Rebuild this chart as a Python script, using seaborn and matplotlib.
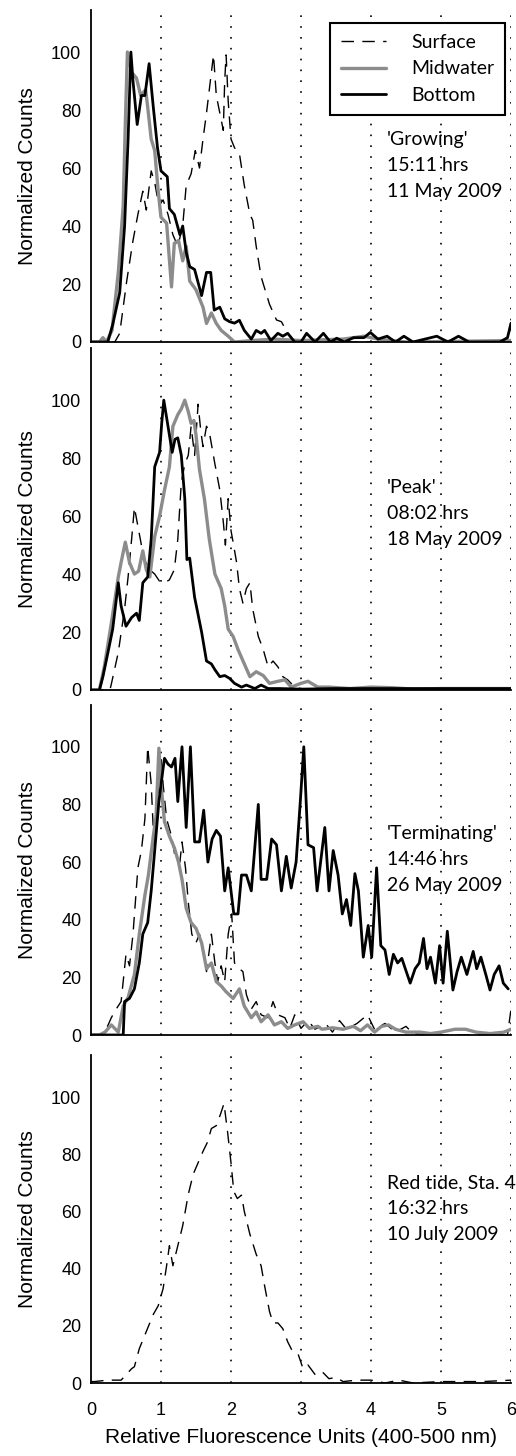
import matplotlib
matplotlib.use("Agg")
import matplotlib.pyplot as plt
import seaborn as sns

# ---- 'Growing' 11 May 2009 ----
grow_surf_x = [0, 0.34, 0.41, 0.51, 0.60, 0.67, 0.74, 0.79, 0.86, 0.91, 0.97, 1.03, 1.10, 1.17, 1.24, 1.31,
               1.36, 1.43, 1.49, 1.55, 1.60, 1.65, 1.70, 1.75, 1.79, 1.84, 1.89, 1.91, 1.93, 1.96, 2.00,
               2.05, 2.12, 2.19, 2.27, 2.31, 2.36, 2.43, 2.55, 2.65, 2.72, 2.81, 2.91, 3.5, 6.0]
grow_surf_y = [0, 0, 3, 21, 35, 44, 52, 45.5, 59, 55, 47, 49, 44, 37, 33, 40,
               54, 58, 66, 60, 70, 79, 89, 99, 85, 79, 73, 90, 99, 83, 70,
               67, 65, 54, 44, 42, 33, 22.5, 13, 7.6, 7, 3, 0, 0, 0]
grow_mid_x = [0, 0.12, 0.17, 0.22, 0.30, 0.39, 0.46, 0.49, 0.52, 0.58, 0.65, 0.71, 0.78, 0.81, 0.86, 0.91,
              0.96, 1.00, 1.08, 1.15, 1.19, 1.25, 1.31, 1.36, 1.41, 1.50, 1.60, 1.65, 1.72, 1.79, 1.86,
              1.96, 2.05, 2.3, 2.6, 3.0, 3.6, 3.9, 4.1, 4.5, 6.0]
grow_mid_y = [0, 0, 1.5, 0, 4, 24, 47, 75, 100, 93, 91, 85, 87, 81, 70, 66,
              52, 43, 41, 19, 34, 35, 28, 33, 21, 18, 12, 6.4, 10, 6.4, 4,
              2, 0, 0.5, 1, 0.5, 1, 2, 1, 0, 0.5]
grow_bot_x = [0, 0.24, 0.31, 0.41, 0.48, 0.53, 0.57, 0.60, 0.66, 0.72, 0.77, 0.83, 0.89, 0.95, 1.00, 1.09,
              1.12, 1.19, 1.27, 1.31, 1.36, 1.41, 1.48, 1.58, 1.65, 1.71, 1.76, 1.84, 1.91, 1.98, 2.05,
              2.12, 2.19, 2.29, 2.36, 2.43, 2.48, 2.57, 2.67, 2.74, 2.81, 2.91, 3.00, 3.08, 3.20, 3.32,
              3.42, 3.51, 3.62, 3.75, 3.9, 3.99, 4.1, 4.23, 4.35, 4.47, 4.6, 4.94, 5.1, 5.25, 5.4, 5.84,
              5.95, 6.0]
grow_bot_y = [0, 0, 6, 17, 40, 70, 100, 90, 75, 85, 85, 96, 81, 67, 59, 57,
              46, 44, 37, 40, 31, 26, 25, 16, 24, 24, 11, 12, 8, 7, 6.5,
              7.5, 4, 1, 4, 3, 4, 0.5, 3, 2, 3, 0, 0, 3, 0, 3,
              0, 1.3, 0, 1.5, 1.5, 3.3, 1, 2, 0, 2, 0, 2, 0, 2, 0, 0,
              1.5, 6.5]

# ---- 'Peak' 18 May 2009 ----
peak_surf_x = [0, 0.27, 0.29, 0.39, 0.48, 0.53, 0.58, 0.62, 0.67, 0.72, 0.76, 0.84, 0.91, 0.98, 1.05, 1.12,
               1.19, 1.24, 1.29, 1.34, 1.39, 1.43, 1.48, 1.53, 1.57, 1.60, 1.65, 1.69, 1.77, 1.84, 1.89,
               1.92, 1.96, 2.00, 2.03, 2.08, 2.12, 2.17, 2.22, 2.27, 2.31, 2.39, 2.46, 2.53, 2.60, 2.67,
               2.74, 2.81, 2.91, 3.00, 3.3, 6.0]
peak_surf_y = [0, 0, 2, 13, 28, 39, 52, 63, 56.5, 50, 45, 41.5, 40, 37.5, 37, 38,
               41.5, 52, 71.5, 78, 81, 91, 81, 98.6, 89, 84, 91, 89, 78, 69, 58,
               50, 66, 55, 51, 44, 35, 30, 35, 37, 28, 18.5, 14, 8, 10, 8,
               4.6, 3.5, 1, 0.5, 0, 0]
peak_mid_x = [0, 0.12, 0.19, 0.29, 0.39, 0.43, 0.49, 0.55, 0.62, 0.68, 0.74, 0.79, 0.84, 0.91, 0.98, 1.05,
              1.12, 1.17, 1.24, 1.29, 1.34, 1.39, 1.43, 1.47, 1.50, 1.55, 1.62, 1.69, 1.77, 1.86, 1.91,
              1.96, 2.03, 2.10, 2.19, 2.27, 2.36, 2.46, 2.55, 2.67, 2.77, 2.86, 3.00, 3.10, 3.24, 3.4,
              3.7, 4.0, 4.3, 4.6, 5.0, 6.0]
peak_mid_y = [0, 0, 8, 23, 39, 44, 51, 44, 40, 41, 48, 41.5, 39, 53, 60, 69,
              77, 91, 95, 97, 100, 96, 92, 93, 88, 76, 66, 52, 40, 35, 29,
              21, 18.5, 14, 9, 4.6, 6.3, 5, 2.3, 3, 3.5, 1, 2.3, 3, 1, 1,
              0.5, 1, 0.8, 0.3, 0.5, 0.5]
peak_bot_x = [0, 0.12, 0.17, 0.24, 0.31, 0.39, 0.43, 0.50, 0.58, 0.65, 0.69, 0.74, 0.81, 0.86, 0.91, 0.98,
              1.01, 1.04, 1.10, 1.16, 1.20, 1.24, 1.29, 1.34, 1.37, 1.41, 1.48, 1.58, 1.65, 1.72, 1.77,
              1.84, 1.91, 1.98, 2.05, 2.15, 2.22, 2.34, 2.43, 2.53, 2.7, 3.0, 3.5, 4.0, 6.0]
peak_bot_y = [0, 0, 4.6, 12.7, 21, 37, 29, 22, 25, 26.5, 24, 37, 39, 52, 77, 82,
              92, 100, 91, 82, 86.5, 87, 81, 66, 45, 45.5, 32, 20, 10, 9, 7,
              4.6, 5, 4, 2.3, 1, 1.7, 0.5, 1.7, 0.5, 0.5, 0.3, 0.5, 0.5, 0.5]

# ---- 'Terminating' 26 May 2009 ----
term_surf_x = [0, 0.15, 0.20, 0.29, 0.36, 0.43, 0.50, 0.55, 0.60, 0.67, 0.72, 0.77, 0.81, 0.86, 0.90, 0.93,
               0.97, 1.00, 1.03, 1.08, 1.15, 1.20, 1.27, 1.30, 1.35, 1.39, 1.44, 1.50, 1.55, 1.60, 1.65,
               1.72, 1.77, 1.81, 1.86, 1.91, 1.96, 2.01, 2.05, 2.12, 2.17, 2.22, 2.29, 2.36, 2.43, 2.53,
               2.60, 2.67, 2.77, 2.84, 2.91, 3.00, 3.10, 3.20, 3.35, 3.45, 3.55, 3.65, 3.80, 3.95, 4.05,
               4.20, 4.35, 4.50, 4.60, 4.80, 5.50, 5.95, 6.0]
term_surf_y = [0, 0, 1, 6, 9, 11.6, 28, 24, 35, 58, 64, 75, 100, 87, 66, 73,
               90, 97, 87, 75, 69, 62, 60, 67, 58, 46, 35, 32, 35, 29, 22,
               35, 25, 18.5, 24, 18.5, 35, 42, 25, 23, 22, 14, 9, 11.6, 7, 6,
               11.6, 7, 6, 2.3, 7, 2.3, 5, 2, 4, 1, 5, 2, 4, 7, 2,
               4, 1, 3, 0.5, 0, 0, 0, 9]
term_mid_x = [0, 0.12, 0.20, 0.29, 0.39, 0.46, 0.53, 0.62, 0.69, 0.77, 0.82, 0.89, 0.93, 0.97, 1.00, 1.05,
              1.12, 1.19, 1.25, 1.30, 1.36, 1.43, 1.50, 1.58, 1.65, 1.72, 1.79, 1.86, 1.93, 2.03, 2.12,
              2.19, 2.29, 2.36, 2.43, 2.53, 2.62, 2.72, 2.81, 2.91, 3.03, 3.12, 3.24, 3.30, 3.45, 3.60,
              3.75, 3.85, 3.95, 4.05, 4.15, 4.25, 4.35, 4.50, 4.70, 4.85, 5.00, 5.20, 5.35, 5.50, 5.70,
              5.90, 6.0]
term_mid_y = [0, 0, 1, 3.5, 1, 10, 13, 21, 35, 48.5, 55.5, 69, 76, 99.5, 87, 74,
              69, 65, 60, 54, 44, 39, 37, 32, 23, 25, 18.5, 17, 15, 12.7, 16,
              10, 6, 8, 4.6, 7, 3.5, 4.6, 2.3, 3.5, 4.6, 2.3, 3, 2, 2.5, 2,
              3, 1.5, 3.5, 1, 3, 3.5, 2, 1, 1, 0.5, 1, 2, 2, 1, 0.5,
              1, 2]
term_bot_x = [0, 0.46, 0.48, 0.55, 0.62, 0.69, 0.74, 0.81, 0.86, 0.91, 0.97, 1.03, 1.05, 1.10, 1.15, 1.20,
              1.24, 1.30, 1.36, 1.42, 1.48, 1.55, 1.61, 1.67, 1.73, 1.79, 1.85, 1.91, 1.96, 2.00, 2.04,
              2.10, 2.15, 2.22, 2.29, 2.39, 2.43, 2.51, 2.58, 2.65, 2.72, 2.79, 2.86, 2.93, 2.99, 3.04,
              3.10, 3.18, 3.23, 3.34, 3.40, 3.46, 3.53, 3.59, 3.65, 3.71, 3.77, 3.82, 3.89, 3.96, 4.01,
              4.08, 4.14, 4.20, 4.26, 4.32, 4.38, 4.44, 4.49, 4.56, 4.63, 4.69, 4.75, 4.80, 4.85, 4.92,
              4.98, 5.03, 5.09, 5.17, 5.23, 5.29, 5.37, 5.46, 5.51, 5.57, 5.64, 5.70, 5.76, 5.83, 5.89,
              5.96]
term_bot_y = [0, 0, 11.6, 12.7, 16, 25, 35, 39, 50, 64, 81, 92.5, 96, 94, 93, 96,
              81, 100, 72, 100, 67, 67, 78, 60, 68, 71, 69, 50, 58, 50, 42,
              42, 55.5, 55.5, 50, 80, 54, 54, 68, 66, 50, 62, 51, 60, 81, 100,
              66, 65, 50, 72, 50, 64, 55.5, 42, 47, 38, 56, 50, 27, 38, 27,
              58, 31, 29.5, 21, 28, 25, 26.6, 23, 18, 23, 25, 33.5, 23, 27, 18,
              31, 18, 36, 15.6, 22, 27, 21, 29, 23, 27, 21, 15.6, 21, 24, 18,
              16]

# ---- Red tide, Sta. 4, 10 July 2009 (surface only) ----
red_surf_x = [0, 0.05, 0.24, 0.43, 0.58, 0.62, 0.69, 0.79, 0.89, 0.96, 1.03, 1.08, 1.12, 1.17, 1.24, 1.31,
              1.39, 1.46, 1.53, 1.60, 1.66, 1.72, 1.79, 1.85, 1.90, 1.95, 2.00, 2.04, 2.09, 2.15, 2.19,
              2.27, 2.36, 2.43, 2.48, 2.55, 2.60, 2.67, 2.74, 2.81, 2.88, 2.96, 3.03, 3.10, 3.20, 3.30,
              3.40, 3.50, 3.60, 3.80, 4.00, 4.20, 4.40, 4.60, 5.00, 5.60, 6.0]
red_surf_y = [0.5, 0.5, 1, 1, 5, 5.7, 12, 18, 24, 27, 33, 41, 48, 41, 48, 55,
              66, 73, 77, 81, 84, 89, 90, 94, 97.7, 88, 77, 67, 64.5, 65.7, 60,
              52, 45, 41, 34, 25, 21, 21, 19, 14.4, 11, 10, 5, 6.3, 3, 4,
              1.5, 2, 0.5, 1, 1, 0, 1, 0, 0.5, 0.5, 1]

panel_notes = [["'Growing'", "15:11 hrs", "11 May 2009"],
               ["'Peak'", "08:02 hrs", "18 May 2009"],
               ["'Terminating'", "14:46 hrs", "26 May 2009"],
               ["Red tide, Sta. 4", "16:32 hrs", "10 July 2009"]]
series_names = ["Surface", "Midwater", "Bottom"]
y_ticks = [0, 20, 40, 60, 80, 100]
x_ticks = [0, 1, 2, 3, 4, 5, 6]

panels = [
    [(grow_surf_x, grow_surf_y), (grow_mid_x, grow_mid_y), (grow_bot_x, grow_bot_y)],
    [(peak_surf_x, peak_surf_y), (peak_mid_x, peak_mid_y), (peak_bot_x, peak_bot_y)],
    [(term_surf_x, term_surf_y), (term_mid_x, term_mid_y), (term_bot_x, term_bot_y)],
    [(red_surf_x, red_surf_y)],
]

sns.set_style("white")
plt.rcParams["font.family"] = ["Liberation Sans", "DejaVu Sans"]
for key in ["text.color", "axes.labelcolor", "xtick.color", "ytick.color"]:
    plt.rcParams[key] = "black"

styles = [dict(color="black", lw=1.0, linestyle=(0, (9, 6))),
          dict(color="#8c8c8c", lw=2.4, linestyle="-"),
          dict(color="black", lw=2.0, linestyle="-")]

W, H = 516, 1456
fig = plt.figure(figsize=(W / 100, H / 100), dpi=100)

# pixel boxes (top, bottom) of each panel and its y-limit top
boxes = [(10, 342, 114.5), (348, 690, 118), (705, 1035, 114.5), (1055, 1383, 114.7)]
left_px, right_px = 91, 511

for i, (top, bot, ytop) in enumerate(boxes):
    ax = fig.add_axes([left_px / W, (H - bot) / H, (right_px - left_px) / W, (bot - top) / H])
    for k, (xs, ys) in enumerate(panels[i]):
        sns.lineplot(x=xs, y=ys, ax=ax, estimator=None, sort=False, **styles[k])
    ax.set_xlim(0, 6)
    ax.set_ylim(0, ytop)
    ax.set_yticks(y_ticks)
    ax.set_xticks(x_ticks)
    for xv in x_ticks[1:]:
        ax.axvline(xv, color="black", lw=1.2, linestyle=(0, (1, 5.5)), zorder=0)
    sns.despine(ax=ax)
    ax.spines["left"].set_linewidth(1.3)
    ax.spines["bottom"].set_linewidth(1.3)
    ax.spines["left"].set_color("black")
    ax.spines["bottom"].set_color("black")
    ax.tick_params(axis="y", length=0, pad=7, labelsize=13)
    ax.tick_params(axis="x", length=0, pad=14, labelsize=13)
    ax.set_ylabel("Normalized Counts", fontsize=15, labelpad=10)
    ax.set_xlabel("")
    if i < 3:
        ax.set_xticklabels([])
    else:
        ax.set_xlabel("Relative Fluorescence Units (400-500 nm)", fontsize=15, labelpad=6)
    for j, line in enumerate(panel_notes[i]):
        ax.text(4.23, 70 - 9 * j, line, fontsize=14, va="center", ha="left",
                family=["Lato", "DejaVu Sans"], clip_on=False)
    if i == 0:
        handles = ax.get_lines()[:3]
        leg = ax.legend(handles, series_names, loc="upper right",
                        bbox_to_anchor=((505 - left_px) / (right_px - left_px), (bot - 23) / (bot - top)),
                        frameon=True, fancybox=False, edgecolor="black", framealpha=1,
                        prop={"family": ["Lato", "DejaVu Sans"], "size": 14},
                        handlelength=2.3, handletextpad=1.3, labelspacing=0.5,
                        borderpad=0.55, borderaxespad=0)
        leg.get_frame().set_linewidth(1.5)

fig.savefig("out.png", dpi=100)
